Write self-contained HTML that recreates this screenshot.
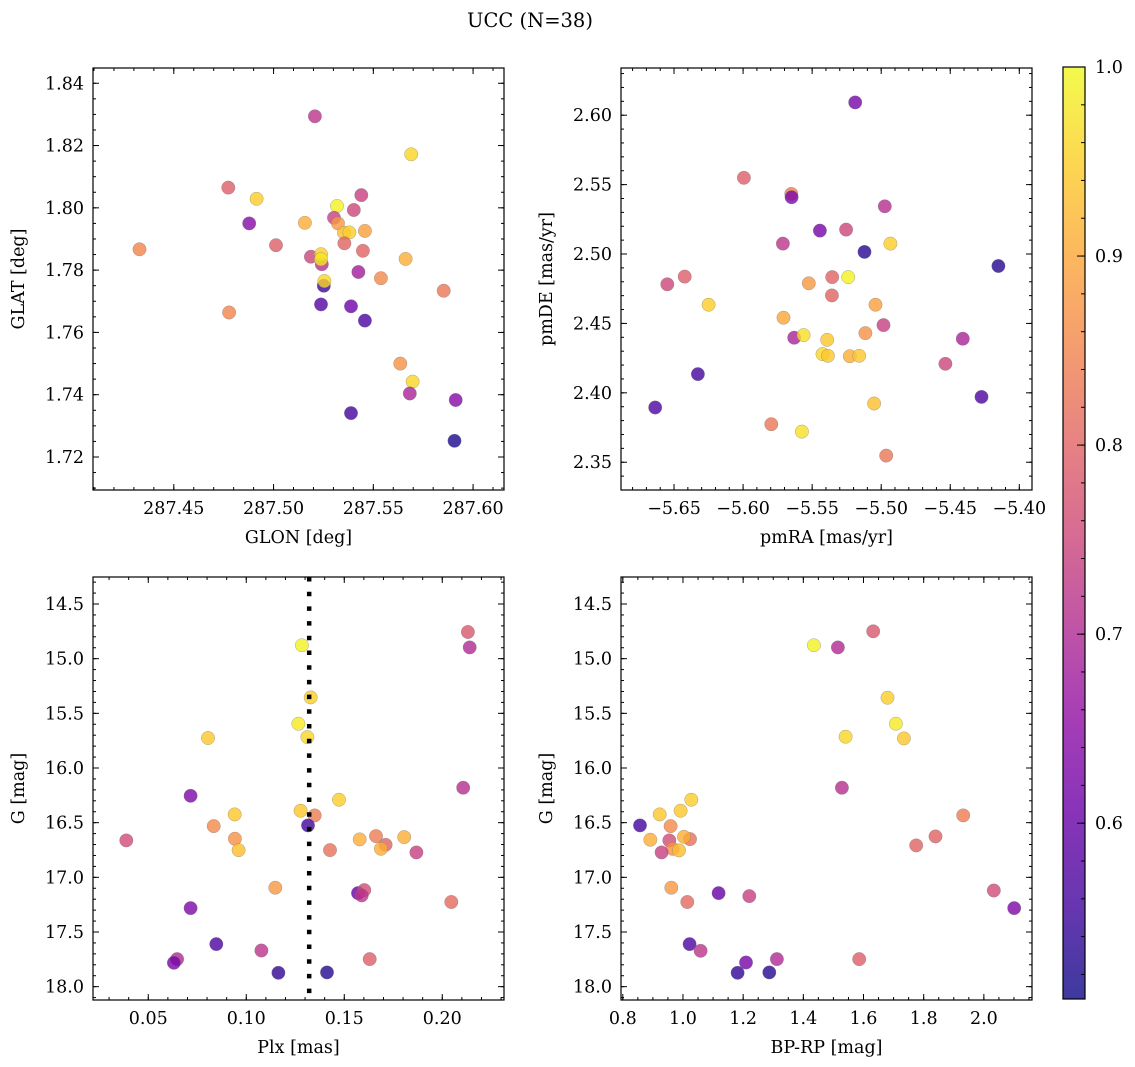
<!DOCTYPE html>
<html><head><meta charset="utf-8">
<style>
html,body{margin:0;padding:0;background:#fff;}
svg{display:block;font-family:"DejaVu Serif","Liberation Serif",serif;}
</style></head>
<body>
<svg id="fig" width="1135" height="1067" viewBox="0 0 1135 1067" xmlns="http://www.w3.org/2000/svg">
<defs>
<linearGradient id="cbgrad" x1="0" y1="1" x2="0" y2="0"></linearGradient>
</defs>
<text x="530" y="27" font-size="19.5" text-anchor="middle">UCC (N=38)</text>
</svg>
<script>
// ---- data (top level) ----
const glon = [287.5207,287.5690,287.4773,287.4915,287.5440,287.5318,287.5402,287.4878,287.5157,287.5303,287.5323,287.5353,287.5380,287.5458,287.5355,287.4328,287.5012,287.5448,287.5187,287.5242,287.5238,287.5238,287.5662,287.5425,287.5538,287.5853,287.5252,287.5255,287.5238,287.5388,287.5458,287.4777,287.5635,287.5697,287.5683,287.5913,287.5388,287.5907];
const glat = [1.8294,1.8172,1.8065,1.8029,1.8041,1.8006,1.7993,1.7950,1.7952,1.7968,1.7950,1.7920,1.7921,1.7926,1.7886,1.7867,1.7880,1.7862,1.7843,1.7819,1.7851,1.7835,1.7836,1.7794,1.7774,1.7734,1.7750,1.7765,1.7690,1.7684,1.7638,1.7664,1.7500,1.7442,1.7404,1.7383,1.7341,1.7252];
const probPos = [0.72,0.96,0.79,0.95,0.74,0.99,0.75,0.64,0.91,0.74,0.88,0.93,0.95,0.89,0.80,0.85,0.79,0.80,0.75,0.71,0.95,0.98,0.91,0.68,0.86,0.83,0.55,0.96,0.58,0.61,0.57,0.85,0.87,0.96,0.69,0.64,0.56,0.52];

const pmra = [-5.5188,-5.5994,-5.5651,-5.5649,-5.4974,-5.5444,-5.5254,-5.5712,-5.4933,-5.5121,-5.4151,-5.6423,-5.6549,-5.5524,-5.5355,-5.5239,-5.5357,-5.6250,-5.5041,-5.5707,-5.4983,-5.5114,-5.5630,-5.5562,-5.5391,-5.4409,-5.5425,-5.5386,-5.5227,-5.5159,-5.4535,-5.6327,-5.4274,-5.6636,-5.5051,-5.5796,-5.5574,-5.4964];
const pmde = [2.6092,2.5549,2.5433,2.5409,2.5344,2.5169,2.5176,2.5075,2.5075,2.5015,2.4914,2.4837,2.4782,2.4789,2.4834,2.4834,2.4702,2.4635,2.4635,2.4541,2.4488,2.4430,2.4397,2.4416,2.4382,2.4390,2.4279,2.4267,2.4264,2.4267,2.4209,2.4135,2.3971,2.3894,2.3923,2.3774,2.3721,2.3548];
const probPm = [0.62,0.79,0.84,0.63,0.71,0.62,0.75,0.72,0.95,0.53,0.53,0.79,0.75,0.88,0.80,0.99,0.80,0.95,0.89,0.90,0.74,0.87,0.69,0.97,0.94,0.69,0.96,0.94,0.91,0.94,0.75,0.56,0.57,0.57,0.93,0.83,0.97,0.83];

const plx = [0.2131,0.2140,0.1284,0.1329,0.1266,0.1312,0.0805,0.2107,0.0716,0.1473,0.1277,0.1349,0.0941,0.1315,0.0834,0.0388,0.0942,0.0961,0.1427,0.1579,0.1662,0.1711,0.1687,0.1806,0.1868,0.1148,0.2046,0.1570,0.1602,0.1589,0.0716,0.0847,0.1077,0.0647,0.0631,0.1630,0.1164,0.1412];
const gmagPlx = [14.756,14.897,14.878,15.354,15.595,15.717,15.726,16.180,16.254,16.290,16.391,16.434,16.424,16.525,16.531,16.662,16.647,16.751,16.751,16.653,16.623,16.702,16.739,16.632,16.772,17.095,17.226,17.144,17.117,17.165,17.281,17.611,17.669,17.748,17.782,17.748,17.873,17.870];
const probPlx = [0.78,0.70,0.99,0.95,0.98,0.96,0.94,0.71,0.63,0.95,0.94,0.84,0.94,0.56,0.86,0.76,0.87,0.93,0.82,0.91,0.84,0.80,0.91,0.91,0.74,0.88,0.81,0.60,0.76,0.72,0.63,0.57,0.72,0.70,0.62,0.79,0.54,0.53];
const plxMedian = [0.1321];

const bprp = [1.6323,1.4352,1.5149,1.6799,1.7076,1.5404,1.7342,1.5282,1.0277,0.9922,0.9225,1.9313,0.8571,0.9590,1.8394,0.8915,0.9546,1.0232,1.0033,1.7751,0.9656,0.9867,0.9291,0.9612,1.0144,1.1185,1.2204,2.0332,2.1008,1.0221,1.0587,1.3123,1.2093,1.5858,1.1816,1.2868];
const gmagCmd = [14.750,14.878,14.897,15.357,15.595,15.714,15.729,16.180,16.290,16.391,16.424,16.434,16.525,16.531,16.626,16.656,16.662,16.650,16.629,16.708,16.739,16.754,16.772,17.095,17.226,17.144,17.172,17.120,17.281,17.611,17.672,17.748,17.779,17.748,17.873,17.870];
const probCmd = [0.78,0.99,0.70,0.95,0.98,0.96,0.94,0.71,0.95,0.94,0.94,0.84,0.56,0.86,0.80,0.91,0.76,0.82,0.91,0.80,0.87,0.93,0.74,0.88,0.81,0.60,0.74,0.76,0.63,0.57,0.72,0.70,0.62,0.79,0.54,0.53];

const ticksGlon = [287.45,287.50,287.55,287.60];
const ticksGlat = [1.72,1.74,1.76,1.78,1.80,1.82,1.84];
const ticksPmra = [-5.65,-5.60,-5.55,-5.50,-5.45,-5.40];
const ticksPmde = [2.35,2.40,2.45,2.50,2.55,2.60];
const ticksPlx = [0.05,0.10,0.15,0.20];
const ticksG = [14.5,15.0,15.5,16.0,16.5,17.0,17.5,18.0];
const ticksBprp = [0.8,1.0,1.2,1.4,1.6,1.8,2.0];
const ticksCb = [0.6,0.7,0.8,0.9,1.0];
const cbRange = [0.507,1.0];

// ---- rendering ----
const NS = 'http://www.w3.org/2000/svg';
const svg = document.getElementById('fig');
const TICKFS = 17.5, LABFS = 17.5;
function mk(tag, attrs, parent){ const e=document.createElementNS(NS,tag); for(const k in attrs) e.setAttribute(k,attrs[k]); (parent||svg).appendChild(e); return e; }
const plasma = [[13,8,135],[65,4,157],[106,0,168],[143,13,164],[177,42,144],[204,71,120],[225,100,98],[242,132,75],[252,166,54],[252,206,37],[240,249,33]];
function cmap(v){
  let t=(v-cbRange[0])/(cbRange[1]-cbRange[0]); t=Math.max(0,Math.min(1,t));
  const f=t*10, i=Math.min(9,Math.floor(f)), r=f-i;
  const c=plasma[i].map((a,k)=>Math.round(a+(plasma[i+1][k]-a)*r));
  return 'rgb('+c.join(',')+')';
}
function fmt(v,d){ const s=Math.abs(v).toFixed(d); return (v<0?'\u2212':'')+s; }

function panel(name, box, xlim, ylim, xt, yt, xminor, yminor, xd, yd, xlabel, ylabel, xs, ys, ps, extra){
  const [L,T,R,B]=box;
  const sx=v=>L+(v-xlim[0])/(xlim[1]-xlim[0])*(R-L);
  const sy=v=>B-(v-ylim[0])/(ylim[1]-ylim[0])*(B-T);
  const g=mk('g',{});
  
  
  const clip=mk('clipPath',{id:'clip-'+name},g); mk('rect',{x:L,y:T,width:R-L,height:B-T},clip);
  const pts=mk('g',{'clip-path':'url(#clip-'+name+')'},g);
  for(let i=0;i<xs.length;i++){
    const c=mk('circle',{cx:sx(xs[i]).toFixed(1),cy:sy(ys[i]).toFixed(1),r:6.7,fill:cmap(ps[i]),'fill-opacity':0.8,stroke:'#777','stroke-opacity':0.6,'stroke-width':0.5},pts);
    
    
  }
  if(extra) extra(pts,sx,sy);
  const tk=mk('g',{stroke:'#000','stroke-width':1},g);
  const lo=Math.min(xlim[0],xlim[1]), hi=Math.max(xlim[0],xlim[1]);
  for(let v=Math.ceil(lo/xminor-1e-6)*xminor; v<=hi+1e-9; v+=xminor){const x=sx(v); mk('line',{x1:x,y1:B,x2:x,y2:B-3},tk); mk('line',{x1:x,y1:T,x2:x,y2:T+3},tk);}
  const ylo=Math.min(ylim[0],ylim[1]), yhi=Math.max(ylim[0],ylim[1]);
  for(let v=Math.ceil(ylo/yminor-1e-6)*yminor; v<=yhi+1e-9; v+=yminor){const y=sy(v); mk('line',{x1:L,y1:y,x2:L+3,y2:y},tk); mk('line',{x1:R,y1:y,x2:R-3,y2:y},tk);}
  xt.forEach(v=>{const x=sx(v); mk('line',{x1:x,y1:B,x2:x,y2:B-6},tk); mk('line',{x1:x,y1:T,x2:x,y2:T+6},tk);
    const t=mk('text',{x:x,y:B+24,'font-size':TICKFS,'text-anchor':'middle'},g); t.textContent=fmt(v,xd);
    
    });
  yt.forEach(v=>{const y=sy(v); mk('line',{x1:L,y1:y,x2:L+6,y2:y},tk); mk('line',{x1:R,y1:y,x2:R-6,y2:y},tk);
    const t=mk('text',{x:L-9,y:y+6,'font-size':TICKFS,'text-anchor':'end'},g); t.textContent=fmt(v,yd);
    
    });
  mk('rect',{x:L,y:T,width:R-L,height:B-T,fill:'none',stroke:'#000','stroke-width':1.2},g);
  const xl=mk('text',{x:(L+R)/2,y:B+53,'font-size':LABFS,'text-anchor':'middle'},g); xl.textContent=xlabel;
  
  
  const ylx=L-69, yc=(T+B)/2;
  const yl=mk('text',{x:ylx,y:yc,'font-size':LABFS,'text-anchor':'middle',transform:'rotate(-90 '+ylx+' '+yc+')'},g); yl.textContent=ylabel;
  
  
}

panel('glon-glat-panel',[93,68,504,490],[287.4095,287.6155],[1.7094,1.8449],ticksGlon,ticksGlat,0.01,0.005,2,2,'GLON [deg]','GLAT [deg]',glon,glat,probPos);
panel('pm-panel',[621,68,1032,490],[-5.6884,-5.3908],[2.330,2.634],ticksPmra,ticksPmde,0.01,0.01,2,2,'pmRA [mas/yr]','pmDE [mas/yr]',pmra,pmde,probPm);
panel('plx-g-panel',[93,577,504,1000],[0.0218,0.2315],[18.122,14.253],ticksPlx,ticksG,0.01,0.1,2,1,'Plx [mas]','G [mag]',plx,gmagPlx,probPlx,(p,sx,sy)=>{
  const x=sx(plxMedian[0]);
  const ln=mk('line',{x1:x,y1:577,x2:x,y2:1000,stroke:'#000','stroke-width':4.5,'stroke-dasharray':'4.5 10.2'},p);
  
  
});
panel('cmd-panel',[621,577,1032,1000],[0.794,2.16],[18.122,14.253],ticksBprp,ticksG,0.05,0.1,1,1,'BP-RP [mag]','G [mag]',bprp,gmagCmd,probCmd);

// colorbar
const grad=document.getElementById('cbgrad');
plasma.forEach((c,i)=>mk('stop',{offset:(i/10),'stop-color':'rgb('+c.join(',')+')'},grad));
const cb=mk('g',{});


const CL=1063,CR=1085,CT=67,CB=999;
mk('rect',{x:CL,y:CT,width:CR-CL,height:CB-CT,fill:'url(#cbgrad)','fill-opacity':0.8},cb);
mk('rect',{x:CL,y:CT,width:CR-CL,height:CB-CT,fill:'none',stroke:'#000','stroke-width':1.2},cb);
const cy=v=>CB-(v-cbRange[0])/(cbRange[1]-cbRange[0])*(CB-CT);
for(let v=0.52; v<=1.0001; v+=0.02){ mk('line',{x1:CR,y1:cy(v),x2:CR-4,y2:cy(v),stroke:'#000','stroke-width':1},cb); }
ticksCb.forEach(v=>{const y=cy(v); mk('line',{x1:CR,y1:y,x2:CR-8,y2:y,stroke:'#000','stroke-width':1},cb);
  const t=mk('text',{x:CR+10,y:y+6,'font-size':TICKFS},cb); t.textContent=v.toFixed(1);
  
  });
</script>
</body></html>
